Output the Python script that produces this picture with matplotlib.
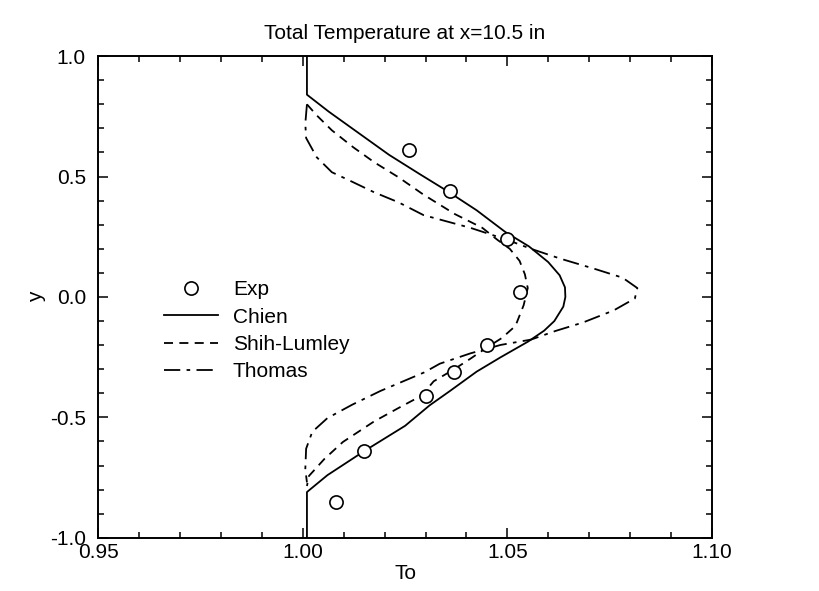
import numpy as np
import matplotlib
matplotlib.use("Agg")
import matplotlib.pyplot as plt
from matplotlib.ticker import MultipleLocator
from matplotlib.legend_handler import HandlerLine2D

plt.rcParams['font.family'] = ['Liberation Sans', 'DejaVu Sans']

# experimental data
exp_to = [1.026, 1.036, 1.050, 1.053, 1.045, 1.037, 1.030, 1.015, 1.008]
exp_y = [0.61, 0.44, 0.24, 0.02, -0.20, -0.31, -0.41, -0.64, -0.85]

# Chien model
chien_to = [1.001, 1.001, 1.0063, 1.0137, 1.0211, 1.0286, 1.0353, 1.0425, 1.0495, 1.0553,
            1.0600, 1.0628, 1.0641, 1.0642, 1.0637, 1.0615, 1.0590, 1.0551, 1.0484, 1.0425,
            1.0360, 1.0310, 1.0250, 1.0150, 1.0060, 1.0010, 1.0010]
chien_y = [1.00, 0.84, 0.77, 0.68, 0.59, 0.51, 0.44, 0.36, 0.27, 0.21,
           0.145, 0.09, 0.04, 0.00, -0.04, -0.10, -0.14, -0.185, -0.25, -0.31,
           -0.39, -0.45, -0.535, -0.64, -0.74, -0.81, -1.00]

# Shih-Lumley model
sl_to = [1.001, 1.0034, 1.0071, 1.0123, 1.0174, 1.0234, 1.0295, 1.0372, 1.0439, 1.0476,
         1.0506, 1.0530, 1.0543, 1.0550, 1.0540, 1.0520, 1.0487, 1.0450, 1.0410, 1.0370,
         1.0320, 1.0290, 1.0235, 1.0174, 1.0098, 1.0053, 1.0015, 1.0010]
sl_y = [0.80, 0.754, 0.692, 0.622, 0.56, 0.497, 0.425, 0.344, 0.287, 0.237,
        0.20, 0.15, 0.094, 0.037, -0.034, -0.12, -0.17, -0.21, -0.256, -0.30,
        -0.35, -0.41, -0.46, -0.517, -0.602, -0.672, -0.743, -0.785]

# Thomas model
th_to = [1.001, 1.0006, 1.0008, 1.0034, 1.0071, 1.0115, 1.0174, 1.0234, 1.0295, 1.0410,
         1.0500, 1.0558, 1.0630, 1.0715, 1.0782, 1.0818, 1.0812, 1.0760, 1.0685, 1.0618,
         1.0558, 1.0484, 1.0410, 1.0335, 1.0297, 1.0190, 1.0121, 1.0060, 1.0023, 1.0008,
         1.0006, 1.0010]
th_y = [0.80, 0.72, 0.66, 0.58, 0.518, 0.483, 0.435, 0.393, 0.34, 0.287,
        0.237, 0.20, 0.159, 0.116, 0.08, 0.037, -0.006, -0.056, -0.106, -0.141,
        -0.177, -0.199, -0.234, -0.277, -0.313, -0.39, -0.447, -0.503, -0.56, -0.63,
        -0.715, -0.77]


class HandlerRightMarker(HandlerLine2D):
    """put the single legend marker near the right end of the handle"""
    def get_xdata(self, legend, xdescent, ydescent, width, height, fontsize):
        xdata = np.array([-xdescent, -xdescent + width])
        return xdata, np.array([-xdescent + width * 0.9])


fig, ax = plt.subplots(figsize=(8.2, 5.91), dpi=100)
fig.subplots_adjust(left=0.12, right=0.868, top=0.905, bottom=0.09)

lw = 1.3
ax.plot(exp_to, exp_y, 'o', mfc='white', mec='black', ms=9.5, mew=1.2, label='Exp', zorder=5)
ax.plot(chien_to, chien_y, '-', color='black', lw=lw, label='Chien')
ax.plot(sl_to, sl_y, color='black', lw=lw, linestyle=(0, (5, 3.5)), label='Shih-Lumley')
ax.plot(th_to, th_y, color='black', lw=lw, linestyle=(0, (9, 3.5, 2, 3.5)), label='Thomas')

ax.set_xlim(0.95, 1.10)
ax.set_ylim(-1.0, 1.0)
ax.xaxis.set_major_locator(MultipleLocator(0.05))
ax.xaxis.set_minor_locator(MultipleLocator(0.01))
ax.yaxis.set_major_locator(MultipleLocator(0.5))
ax.yaxis.set_minor_locator(MultipleLocator(0.1))
ax.xaxis.set_major_formatter(plt.FormatStrFormatter('%.2f'))
ax.yaxis.set_major_formatter(plt.FormatStrFormatter('%.1f'))
ax.tick_params(which='both', direction='in', top=True, right=True, labelsize=15, width=1.1)
ax.tick_params(which='major', length=7)
ax.tick_params(axis='y', which='major', pad=9)
ax.tick_params(axis='x', which='major', pad=4)
ax.tick_params(which='minor', length=4)
for s in ax.spines.values():
    s.set_linewidth(1.4)

ax.set_xlabel('To', fontsize=15, labelpad=1)
ax.set_ylabel('y', fontsize=15)
ax.yaxis.set_label_coords(-0.085, 0.5)
ax.set_title('Total Temperature at x=10.5 in', fontsize=15, pad=12)

exp_handle = ax.lines[0]
ax.legend(loc='center left', bbox_to_anchor=(0.09, 0.43), frameon=False, fontsize=15,
          handlelength=2.6, handletextpad=0.7, labelspacing=0.4, borderpad=0,
          handler_map={exp_handle: HandlerRightMarker(numpoints=1)})

fig.savefig('out.png', dpi=100)
